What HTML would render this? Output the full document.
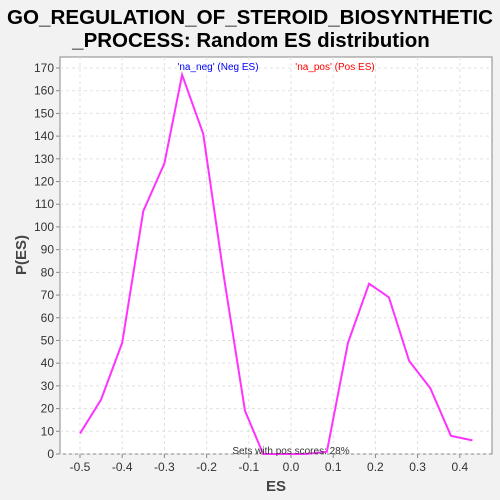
<!DOCTYPE html>
<html><head><meta charset="utf-8"><style>
body{margin:0;background:#f2f2f2;font-family:"Liberation Sans",sans-serif;}
</style></head><body>
<svg width="500" height="500" style="display:block">
<rect x="0" y="0" width="500" height="500" fill="#f2f2f2"/>
<text x="250" y="24" text-anchor="middle" font-size="20.5" font-weight="bold" fill="#000" textLength="486" lengthAdjust="spacingAndGlyphs">GO_REGULATION_OF_STEROID_BIOSYNTHETIC</text>
<text x="251" y="47" text-anchor="middle" font-size="20.5" font-weight="bold" fill="#000">_PROCESS: Random ES distribution</text>
<rect x="60" y="57" width="432" height="397" fill="#fff" stroke="#888"/>
<g id="grid"></g>
<g id="axes"></g>
<polyline id="line" fill="none" stroke="#ff33ff" stroke-width="2"/>
<text x="218" y="70" text-anchor="middle" font-size="10" fill="#0000ff">'na_neg' (Neg ES)</text>
<text x="335" y="70" text-anchor="middle" font-size="10" fill="#ff0000">'na_pos' (Pos ES)</text>
<text x="291" y="454" text-anchor="middle" font-size="10" fill="#333">Sets with pos scores: 28%</text>
<text x="276" y="491" text-anchor="middle" font-size="15" font-weight="bold" fill="#444">ES</text>
<text transform="translate(26,255) rotate(-90)" text-anchor="middle" font-size="15" font-weight="bold" fill="#444">P(ES)</text>
</svg>
<script>
const esValues=[-0.5,-0.45,-0.4,-0.35,-0.3,-0.258,-0.208,-0.159,-0.109,-0.066,0.035,0.085,0.135,0.185,0.232,0.28,0.33,0.379,0.43];
const pValues=[9,24,49,107,128,167,141,78,19,0,0,1,49,75,69,41,29,8,6];
const xTicks=[-0.5,-0.4,-0.3,-0.2,-0.1,0.0,0.1,0.2,0.3,0.4];
const yTicks=[0,10,20,30,40,50,60,70,80,90,100,110,120,130,140,150,160,170];
const NS="http://www.w3.org/2000/svg";
const xs=v=>291+v*422;
const ys=v=>454-v*(386/170);
const grid=document.getElementById('grid'),axes=document.getElementById('axes');
function mk(tag,attrs,parent){const e=document.createElementNS(NS,tag);for(const k in attrs)e.setAttribute(k,attrs[k]);parent.appendChild(e);return e;}
xTicks.forEach(t=>{
 const x=xs(t);
 const g=mk('line',{x1:x,x2:x,y1:57,y2:454,stroke:'#e0e0e0','stroke-dasharray':'3,3'},grid);
 
 
 const tk=mk('line',{x1:x,x2:x,y1:454,y2:458,stroke:'#888'},axes);
 
 
 const tx=mk('text',{x:x,y:471,'text-anchor':'middle','font-size':'12',fill:'#333'},axes);
 tx.textContent=t.toFixed(1);
 
 
});
yTicks.forEach(t=>{
 const y=ys(t);
 const g=mk('line',{x1:60,x2:492,y1:y,y2:y,stroke:'#e0e0e0','stroke-dasharray':'3,3'},grid);
 
 
 const tk=mk('line',{x1:56,x2:60,y1:y,y2:y,stroke:'#888'},axes);
 
 
 const tx=mk('text',{x:54,y:y+4,'text-anchor':'end','font-size':'12',fill:'#333'},axes);
 tx.textContent=t;
 
 
});
document.getElementById('line').setAttribute('points',esValues.map((v,i)=>xs(v)+','+ys(pValues[i])).join(' '));
</script>
</body></html>
